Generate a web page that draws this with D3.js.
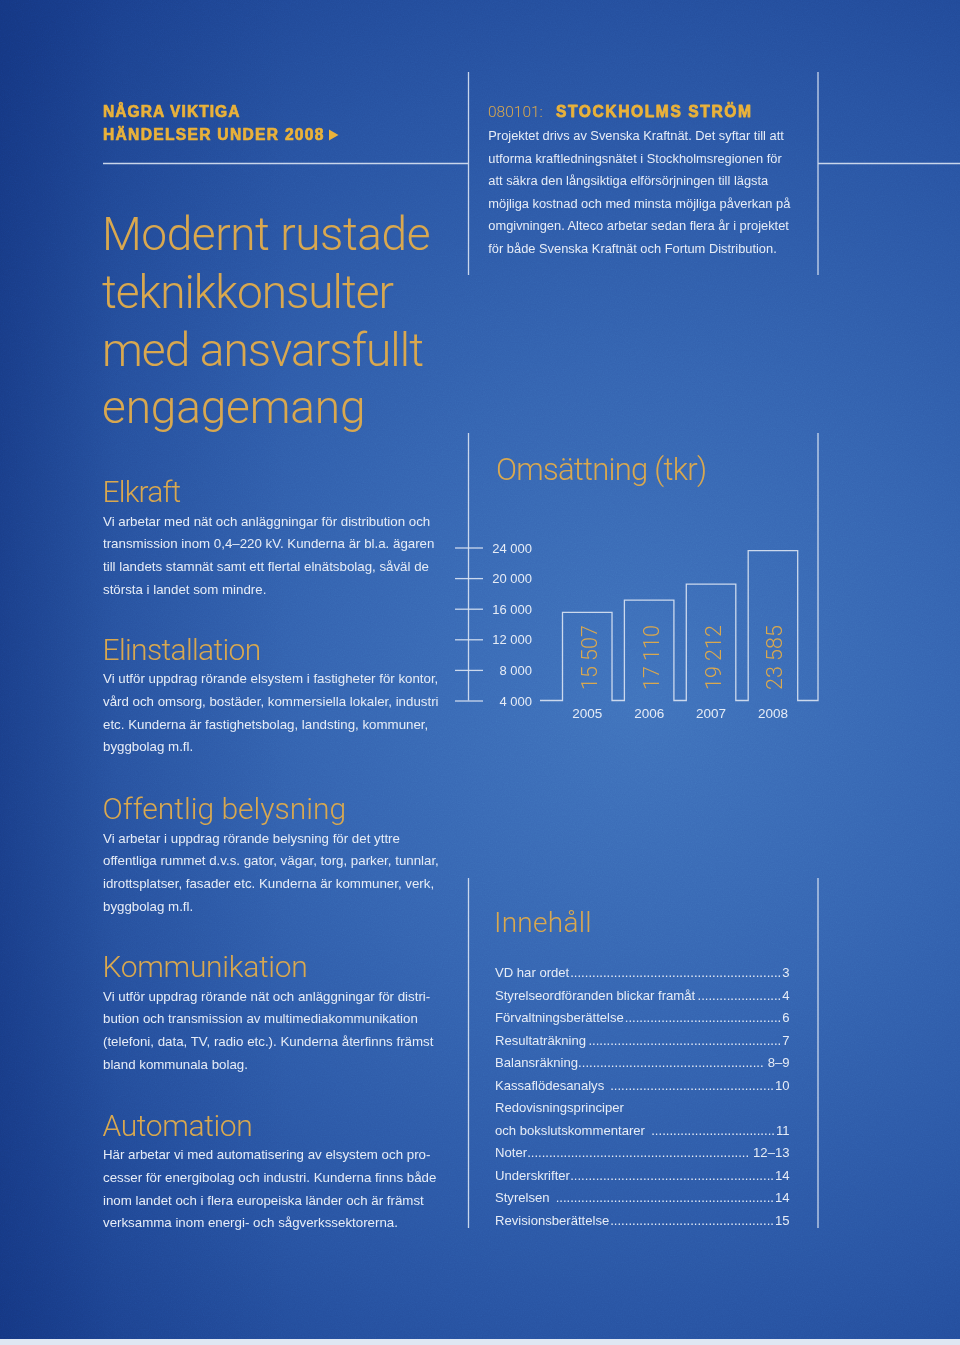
<!DOCTYPE html>
<html><head><meta charset="utf-8">
<script src="https://cdn.jsdelivr.net/npm/d3@7"></script>
<style>
html,body{margin:0;padding:0;background:#2a56a4;}
svg{display:block;}
</style></head><body>
<svg id="page" width="960" height="1345"></svg>
<script>
// ---------------- DATA ----------------
const years = ["2005", "2006", "2007", "2008"];
const revenue = [15507, 17110, 19212, 23585];
const valueLabels = ["15 507", "17 110", "19 212", "23 585"];
const tickValues = [4000, 8000, 12000, 16000, 20000, 24000];
const tickLabels = ["4 000", "8 000", "12 000", "16 000", "20 000", "24 000"];
const chartTitle = "Omsättning (tkr)";

const kickerLines = ["NÅGRA VIKTIGA", "HÄNDELSER UNDER 2008"];
const titleLines = ["Modernt rustade", "teknikkonsulter", "med ansvarsfullt", "engagemang"];

const sectionTitles = ["Elkraft", "Elinstallation", "Offentlig belysning", "Kommunikation", "Automation"];
const sectionTexts = [
  ["Vi arbetar med nät och anläggningar för distribution och",
   "transmission inom 0,4–220 kV. Kunderna är bl.a. ägaren",
   "till landets stamnät samt ett flertal elnätsbolag, såväl de",
   "största i landet som mindre."],
  ["Vi utför uppdrag rörande elsystem i fastigheter för kontor,",
   "vård och omsorg, bostäder, kommersiella lokaler, industri",
   "etc. Kunderna är fastighetsbolag, landsting, kommuner,",
   "byggbolag m.fl."],
  ["Vi arbetar i uppdrag rörande belysning för det yttre",
   "offentliga rummet d.v.s. gator, vägar, torg, parker, tunnlar,",
   "idrottsplatser, fasader etc. Kunderna är kommuner, verk,",
   "byggbolag m.fl."],
  ["Vi utför uppdrag rörande nät och anläggningar för distri-",
   "bution och transmission av multimediakommunikation",
   "(telefoni, data, TV, radio etc.). Kunderna återfinns främst",
   "bland kommunala bolag."],
  ["Här arbetar vi med automatisering av elsystem och pro-",
   "cesser för energibolag och industri. Kunderna finns både",
   "inom landet och i flera europeiska länder och är främst",
   "verksamma inom energi- och sågverkssektorerna."]
];

const newsDate = "080101:";
const newsTitle = "STOCKHOLMS STRÖM";
const newsLines = [
  "Projektet drivs av Svenska Kraftnät. Det syftar till att",
  "utforma kraftledningsnätet i Stockholmsregionen för",
  "att säkra den långsiktiga elförsörjningen till lägsta",
  "möjliga kostnad och med minsta möjliga påverkan på",
  "omgivningen. Alteco arbetar sedan flera år i projektet",
  "för både Svenska Kraftnät och Fortum Distribution."
];

const tocTitle = "Innehåll";
const tocLabels = ["VD har ordet", "Styrelseordföranden blickar framåt", "Förvaltningsberättelse",
  "Resultaträkning", "Balansräkning", "Kassaflödesanalys ", "Redovisningsprinciper",
  "och bokslutskommentarer ", "Noter", "Underskrifter", "Styrelsen ", "Revisionsberättelse"];
const tocPages = ["3", "4", "6", "7", "8–9", "10", "", "11", "12–13", "14", "14", "15"];

// ---------------- STYLE ----------------
const FONT_LIGHT = "Roboto, 'Open Sans', Lato, 'Liberation Sans', sans-serif";
const FONT_BODY = "'Liberation Sans', Arial, Helvetica, sans-serif";
const GOLD = "#d9a84f";
const GOLD_BOLD = "#eab23a";
const TEXT = "#e6ecf6";
const LINE = "#dbe4f3";

const svg = d3.select("#page");
const W = 960, H = 1345;
const defs = svg.append("defs");

// background
const rg = defs.append("radialGradient").attr("id", "bg")
  .attr("gradientUnits", "userSpaceOnUse").attr("cx", 640).attr("cy", 700).attr("r", 900);
[[0, "#4072bc"], [0.35, "#3564b1"], [0.7, "#2853a2"], [1, "#1b4190"]]
  .forEach(([o, c]) => rg.append("stop").attr("offset", o).attr("stop-color", c));
const lg = defs.append("linearGradient").attr("id", "leftshade").attr("x1", 0).attr("x2", 1).attr("y1", 0).attr("y2", 0);
[[0, "#102f78", 0.55], [0.12, "#102f78", 0.15], [0.3, "#102f78", 0]]
  .forEach(([o, c, a]) => lg.append("stop").attr("offset", o).attr("stop-color", c).attr("stop-opacity", a));

const f = defs.append("filter").attr("id", "grain").attr("x", 0).attr("y", 0).attr("width", "100%").attr("height", "100%");
f.append("feTurbulence").attr("type", "fractalNoise").attr("baseFrequency", 0.85).attr("numOctaves", 2).attr("seed", 4).attr("result", "n");
f.append("feColorMatrix").attr("type", "saturate").attr("values", 0);

svg.append("rect").attr("width", W).attr("height", H).attr("fill", "url(#bg)");
svg.append("rect").attr("width", W).attr("height", H).attr("fill", "url(#leftshade)");
svg.append("rect").attr("width", W).attr("height", H).attr("filter", "url(#grain)")
  .attr("opacity", 0.14).style("mix-blend-mode", "overlay");
svg.append("rect").attr("x", 0).attr("y", 1339).attr("width", W).attr("height", 6).attr("fill", "#dfe7f3");

// frame lines
const lines = svg.append("g").attr("stroke", LINE).attr("stroke-width", 1.3).attr("fill", "none").attr("opacity", 0.9);
const seg = (x1, y1, x2, y2) => lines.append("line").attr("x1", x1).attr("y1", y1).attr("x2", x2).attr("y2", y2);
seg(103, 163.5, 468.5, 163.5);
seg(818, 163.5, 960, 163.5);
seg(468.5, 72, 468.5, 275);
seg(818, 72, 818, 275);
seg(468.5, 878, 468.5, 1228);
seg(818, 878, 818, 1228);

function fit(sel, len) { return sel.attr("textLength", len).attr("lengthAdjust", "spacing"); }

// ---------------- KICKER ----------------
const kickerW = [136.5, 220.5];
kickerLines.forEach((t, i) => {
  fit(svg.append("text").attr("x", 103).attr("y", 117.3 + i * 22.8)
    .attr("font-family", FONT_BODY).attr("font-weight", 700).attr("font-size", 15.6)
    .attr("fill", GOLD_BOLD).attr("stroke", GOLD_BOLD).attr("stroke-width", 0.7)
    .attr("stroke-linejoin", "round").text(t), kickerW[i]);
});
svg.append("path").attr("d", "M329,129.5L338.5,135L329,140.5Z").attr("fill", GOLD_BOLD);

// ---------------- BIG TITLE ----------------
const titleW = [328.5, 292, 322, 263.5];
titleLines.forEach((t, i) => {
  fit(svg.append("text").attr("x", 102).attr("y", 250 + i * 57.8)
    .attr("font-family", FONT_LIGHT).attr("font-weight", 300).attr("font-size", 46)
    .attr("fill", GOLD).text(t), titleW[i]);
});

// ---------------- SECTIONS ----------------
const bodyTop = [525.7, 683.3, 842.7, 1000.7, 1159.3];
const headW = [78.7, 158.7, 243.7, 205.3, 150.3];
sectionTitles.forEach((t, i) => {
  fit(svg.append("text").attr("x", 102.5).attr("y", bodyTop[i] - 23.5)
    .attr("font-family", FONT_LIGHT).attr("font-weight", 300).attr("font-size", 30)
    .attr("fill", GOLD).text(t), headW[i]);
  sectionTexts[i].forEach((l, j) => {
    svg.append("text").attr("x", 103).attr("y", bodyTop[i] + j * 22.6)
      .attr("font-family", FONT_BODY).attr("font-size", 13.3).attr("fill", TEXT).text(l);
  });
});

// ---------------- NEWS ----------------
svg.append("text").attr("x", 488).attr("y", 116.7).attr("font-size", 15.5)
  .attr("font-family", FONT_LIGHT).attr("font-weight", 300).attr("fill", GOLD).text(newsDate);
fit(svg.append("text").attr("x", 556).attr("y", 116.7).attr("font-size", 15.6)
  .attr("font-family", FONT_BODY).attr("font-weight", 700).attr("fill", GOLD_BOLD)
  .attr("stroke", GOLD_BOLD).attr("stroke-width", 0.8).attr("stroke-linejoin", "round").text(newsTitle), 195);
newsLines.forEach((l, j) => {
  svg.append("text").attr("x", 488.3).attr("y", 140 + j * 22.55)
    .attr("font-family", FONT_BODY).attr("font-size", 12.85).attr("fill", TEXT).text(l);
});

// ---------------- CHART ----------------
const chart = svg.append("g");
const y = d3.scaleLinear().domain([4000, 24000]).range([700.5, 547.5]);
const x = d3.scaleBand().domain(years).range([562.5, 797.7]).paddingInner(0.2).paddingOuter(0);
const base = y(tickValues[0]);

fit(chart.append("text").attr("x", 496).attr("y", 480)
  .attr("font-family", FONT_LIGHT).attr("font-weight", 300).attr("font-size", 31)
  .attr("fill", GOLD).text(chartTitle), 211);

// axis line
chart.append("line").attr("x1", 468.5).attr("x2", 468.5).attr("y1", 433).attr("y2", base)
  .attr("stroke", LINE).attr("stroke-width", 1.3).attr("opacity", 0.9);

const axis = d3.axisRight(y).tickValues(tickValues).tickFormat((d, i) => tickLabels[i]).tickSize(28).tickPadding(0);
const ag = chart.append("g").attr("transform", "translate(455,0)").call(axis);
ag.select(".domain").remove();
ag.selectAll(".tick line").attr("stroke", LINE).attr("stroke-width", 1.3).attr("opacity", 0.9);
ag.selectAll(".tick text").attr("x", 77).attr("text-anchor", "end").attr("dy", "0.35em")
  .attr("fill", TEXT).attr("font-family", FONT_BODY).attr("font-size", 13);

// step outline for bars
const p = d3.path();
p.moveTo(540, base);
years.forEach((yr, i) => {
  const x0 = x(yr), x1 = x0 + x.bandwidth(), yt = y(revenue[i]);
  p.lineTo(x0, base); p.lineTo(x0, yt); p.lineTo(x1, yt); p.lineTo(x1, base);
});
p.lineTo(818, base);
p.lineTo(818, 433);
chart.append("path").attr("d", p.toString()).attr("fill", "none")
  .attr("stroke", LINE).attr("stroke-width", 1.3).attr("opacity", 0.9);

// value labels (rotated)
chart.selectAll(".val").data(years).join("text").attr("class", "val")
  .attr("transform", (d) => `translate(${x(d) + x.bandwidth() / 2 + 9.5},690) rotate(-90)`)
  .attr("font-family", FONT_LIGHT).attr("font-weight", 300).attr("font-size", 21.5)
  .attr("fill", GOLD).text((d, i) => valueLabels[i]);

// year labels
chart.selectAll(".yr").data(years).join("text").attr("class", "yr")
  .attr("x", (d) => x(d) + x.bandwidth() / 2).attr("y", 717.5).attr("text-anchor", "middle")
  .attr("font-family", FONT_BODY).attr("font-size", 13.5).attr("fill", TEXT).text((d) => d);

// ---------------- TOC ----------------
fit(svg.append("text").attr("x", 494).attr("y", 932.3)
  .attr("font-family", FONT_LIGHT).attr("font-weight", 300).attr("font-size", 28)
  .attr("fill", GOLD).text(tocTitle), 97.5);

const tocG = svg.append("g").attr("font-family", FONT_BODY).attr("font-size", 13.1).attr("fill", TEXT);
const tocRight = 789.5;
const dotProbe = tocG.append("text").text("..........");
const dotW = dotProbe.node().getComputedTextLength() / 10;
dotProbe.remove();
tocLabels.forEach((lab, i) => {
  const yy = 977.3 + i * 22.5;
  const lt = tocG.append("text").attr("x", 495).attr("y", yy).style("white-space", "pre").text(lab);
  if (!tocPages[i]) return;
  const lw = lt.node().getComputedTextLength();
  const pt = tocG.append("text").attr("x", tocRight).attr("y", yy).attr("text-anchor", "end").text(tocPages[i]);
  const pw = pt.node().getComputedTextLength();
  const start = 495 + lw;
  const end = tocRight - pw - (tocPages[i].length > 2 ? 4 : 1);
  const n = Math.max(0, Math.floor((end - start) / dotW));
  tocG.append("text").attr("x", end).attr("y", yy).attr("text-anchor", "end").text(".".repeat(n));
});
</script>
</body></html>
